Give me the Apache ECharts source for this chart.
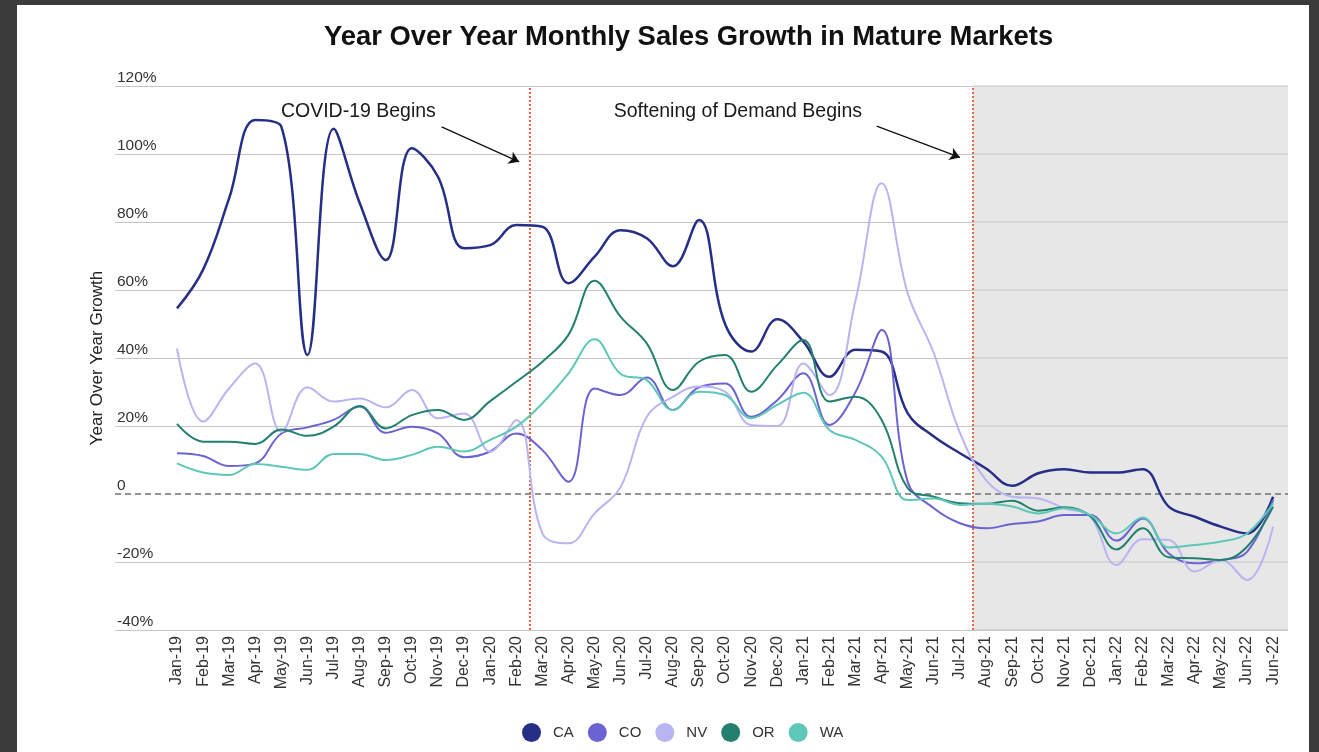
<!DOCTYPE html>
<html>
<head>
<meta charset="utf-8">
<script src="https://cdn.jsdelivr.net/npm/echarts@6/dist/echarts.min.js"></script>
<style>
  html, body { margin: 0; padding: 0; background: #3b3b3b; }
  #card { position: absolute; left: 17px; top: 5px; width: 1292px; height: 747px; background: #ffffff; }
  #chart { position: absolute; left: 0; top: 0; width: 1319px; height: 752px; }
</style>
</head>
<body>
<div id="card"></div>
<div id="chart"></div>
<script>
const categories = ['Jan-19','Feb-19','Mar-19','Apr-19','May-19','Jun-19','Jul-19','Aug-19','Sep-19','Oct-19','Nov-19','Dec-19',
  'Jan-20','Feb-20','Mar-20','Apr-20','May-20','Jun-20','Jul-20','Aug-20','Sep-20','Oct-20','Nov-20','Dec-20',
  'Jan-21','Feb-21','Mar-21','Apr-21','May-21','Jun-21','Jul-21','Aug-21','Sep-21','Oct-21','Nov-21','Dec-21',
  'Jan-22','Feb-22','Mar-22','Apr-22','May-22','Jun-22','Jun-22'];

const CA = [54.6, 66, 87, 110, 108, 40.9, 107.4, 85.6, 68.8, 101.7, 93.3, 72.3, 73.2, 79.1, 78.6, 62, 69.8, 77.6, 75.2, 67, 80.6, 50, 41.9, 51.4, 44.8, 34.5, 42.4, 41.9, 23.7, 16.9, 12, 7.5, 2.4, 6.1, 7.3, 6.3, 6.3, 7.3, -3.7, -6.7, -9.6, -11.6, -0.8];
const CO = [12, 11.2, 8.2, 9, 17.8, 19.6, 21.8, 25.7, 18, 19.8, 17.8, 10.8, 12.5, 17.8, 12.9, 3.6, 31, 29.1, 34.3, 24.7, 31.4, 32.5, 22.7, 27.6, 35.5, 20.3, 30, 48.2, 3.5, -4.2, -8.6, -10.1, -8.8, -8.1, -6.2, -6.2, -13.7, -7.2, -17.5, -20.4, -19.4, -17, -1.8];
const NV = [42.8, 21.3, 31.1, 38.4, 18.3, 31.4, 27.2, 28.1, 25.5, 30.6, 22.3, 23.7, 12.4, 21.8, -11.6, -14.5, -5.7, 2.1, 22.7, 28.6, 31.6, 30.1, 20.3, 20, 38.4, 29.1, 57, 91.4, 59, 41.4, 18, 4.1, -0.8, -1.3, -4.2, -6.7, -20.9, -13.3, -13.5, -22.8, -19.4, -25.3, -9.6];
const OR = [20.6, 15.4, 15.4, 14.7, 19, 17.1, 19.8, 25.9, 19.3, 23.2, 24.7, 21.8, 27.3, 33, 38.9, 46.8, 62.7, 52.1, 44.3, 30.6, 38.9, 40.9, 30.1, 37.9, 45.3, 27.2, 28.6, 21.8, 1.7, -0.8, -2.7, -2.9, -2, -4.9, -3.9, -6.5, -16.3, -10.1, -18.6, -18.9, -19.4, -15.5, -3.7];
const WA = [9, 6.3, 5.6, 8.8, 8, 7.1, 11.8, 11.8, 10, 11.5, 13.9, 12.5, 15.9, 19.8, 26.7, 35.5, 45.5, 35.3, 33.5, 24.7, 30.1, 29.1, 22.3, 26.2, 29.8, 18.8, 15.9, 11, -1.8, -1.3, -3.2, -2.9, -3.7, -5.7, -4.2, -6.2, -11.6, -6.9, -15.7, -15, -14, -11.6, -2.7];

const seriesNames = ['CA', 'CO', 'NV', 'OR', 'WA'];
const seriesValues = [CA, CO, NV, OR, WA];
const seriesColors = ['#262e87', '#6c63d2', '#b9b4f2', '#23806f', '#5ec7b7'];
const yTicks = [-40, -20, 0, 20, 40, 60, 80, 100, 120];

// event markers (between months, in month-index units)
const covidAt = 13.5;     // between Feb-20 and Mar-20
const softeningAt = 30.5; // between Jul-21 and Aug-21
const annotations = [
  { name: 'COVID-19 Begins', coord: [6.95, 112.4], arrowFrom: [10.14, 108.0], arrowTo: [13.11, 97.7] },
  { name: 'Softening of Demand Begins', coord: [21.49, 112.4], arrowFrom: [26.81, 108.2], arrowTo: [30.0, 99.0] }
];

const FONT = '"Liberation Sans", Arial, Helvetica, sans-serif';
const xMax = 42.57;
const yMin = -40, yMax = 120;
const GRID_COLOR = '#c6c6c6';

const lineSeries = seriesNames.map((n, k) => ({
  name: n,
  type: 'line',
  xAxisIndex: 1,
  yAxisIndex: 1,
  smooth: 0.4,
  symbol: 'none',
  z: 5 + k,
  lineStyle: { width: k === 0 ? 2.5 : 2, color: seriesColors[k] },
  itemStyle: { color: seriesColors[k] },
  data: seriesValues[k].map((v, i) => [i, v])
}));

const gridColors = yTicks.map(t => t === 0 ? 'rgba(0,0,0,0)' : GRID_COLOR);

// shaded "softening" period, with the gridlines redrawn on top of the shading
const shadeSeries = {
  type: 'custom', xAxisIndex: 1, yAxisIndex: 1, silent: true, z: 2, clip: false,
  data: [[softeningAt, xMax]],
  encode: { x: [0, 1] },
  renderItem: (params, api) => {
    const x0 = api.value(0), x1 = api.value(1);
    const tl = api.coord([x0, yMax]);
    const br = api.coord([x1, yMin]);
    const children = [{
      type: 'rect',
      shape: { x: tl[0], y: tl[1], width: br[0] - tl[0], height: br[1] - tl[1] },
      style: { fill: '#e7e7e7' }
    }];
    yTicks.filter(t => t !== 0).forEach(t => {
      const p0 = api.coord([x0, t]), p1 = api.coord([x1, t]);
      children.push({
        type: 'line',
        shape: { x1: p0[0], y1: p0[1], x2: p1[0], y2: p1[1] },
        style: { stroke: GRID_COLOR, lineWidth: 1.2 }
      });
    });
    return { type: 'group', children };
  }
};

const option = {
  backgroundColor: 'transparent',
  animation: false,
  textStyle: { fontFamily: FONT },
  title: {
    text: 'Year Over Year Monthly Sales Growth in Mature Markets',
    left: 324, top: 24, padding: 0,
    textStyle: { fontFamily: FONT, fontSize: 27.4, fontWeight: 'bold', color: '#111' }
  },
  legend: {
    data: seriesNames,
    left: 517, top: 718,
    icon: 'circle',
    itemWidth: 19, itemHeight: 19, itemGap: 14,
    textStyle: { fontFamily: FONT, fontSize: 15, color: '#333', padding: [0, 0, 0, 7] }
  },
  grid: [
    { left: 115, right: 31, top: 86, bottom: 122 },
    { left: 177, right: 31, top: 86, bottom: 122 }
  ],
  xAxis: [
    { type: 'value', gridIndex: 0, min: 0, max: 1, show: false },
    {
      type: 'value', gridIndex: 1, min: 0, max: xMax, interval: 1,
      axisLine: { show: false }, axisTick: { show: false }, splitLine: { show: false },
      axisLabel: {
        rotate: 90, margin: 6, fontFamily: FONT, fontSize: 16, color: '#333',
        showMaxLabel: false,
        formatter: v => (Number.isInteger(v) && categories[v] !== undefined) ? categories[v] : ''
      }
    }
  ],
  yAxis: [
    {
      type: 'value', gridIndex: 0, min: yMin, max: yMax, interval: 20,
      name: 'Year Over Year Growth', nameLocation: 'middle', nameGap: 6, nameRotate: 90,
      nameTextStyle: { fontFamily: FONT, fontSize: 17, color: '#222' },
      axisLine: { show: false }, axisTick: { show: false },
      splitLine: { show: true, lineStyle: { color: gridColors, width: 1.2 } },
      axisLabel: {
        inside: true, margin: 2, verticalAlign: 'bottom', align: 'left',
        fontFamily: FONT, fontSize: 15.5, color: '#333', padding: [0, 0, 0, 0],
        formatter: v => v === 0 ? '0' : v + '%'
      }
    },
    { type: 'value', gridIndex: 1, min: yMin, max: yMax, interval: 20, show: false, splitLine: { show: false } }
  ],
  series: [
    shadeSeries,
    {
      type: 'line', xAxisIndex: 0, yAxisIndex: 0, data: [], silent: true, z: 4,
      markLine: {
        silent: true, symbol: ['none', 'none'], label: { show: false },
        lineStyle: { color: '#707070', type: [6, 4], width: 1.6 },
        data: [{ yAxis: 0 }]
      }
    },
    {
      type: 'line', xAxisIndex: 1, yAxisIndex: 1, data: [], silent: true, z: 4,
      markLine: {
        silent: true, symbol: ['none', 'none'], label: { show: false },
        lineStyle: { color: '#e4683f', type: 'dotted', width: 2 },
        data: [{ xAxis: covidAt }, { xAxis: softeningAt }]
      }
    },
    {
      type: 'line', xAxisIndex: 1, yAxisIndex: 1, data: [], silent: true, z: 12,
      markLine: {
        silent: true, symbol: ['none', 'arrow'], symbolSize: [10, 10], label: { show: false },
        lineStyle: { color: '#111', type: 'solid', width: 1.3 },
        data: annotations.map(a => [{ coord: a.arrowFrom }, { coord: a.arrowTo }])
      },
      markPoint: {
        silent: true, symbol: 'circle', symbolSize: 1,
        itemStyle: { color: 'rgba(0,0,0,0)' },
        label: { show: true, position: 'inside', formatter: '{b}', fontFamily: FONT, fontSize: 19.5, color: '#1a1a1a' },
        data: annotations.map(a => ({ name: a.name, coord: a.coord }))
      }
    }
  ].concat(lineSeries)
};

const chart = echarts.init(document.getElementById('chart'), null, { renderer: 'canvas' });
chart.setOption(option);
</script>
</body>
</html>
